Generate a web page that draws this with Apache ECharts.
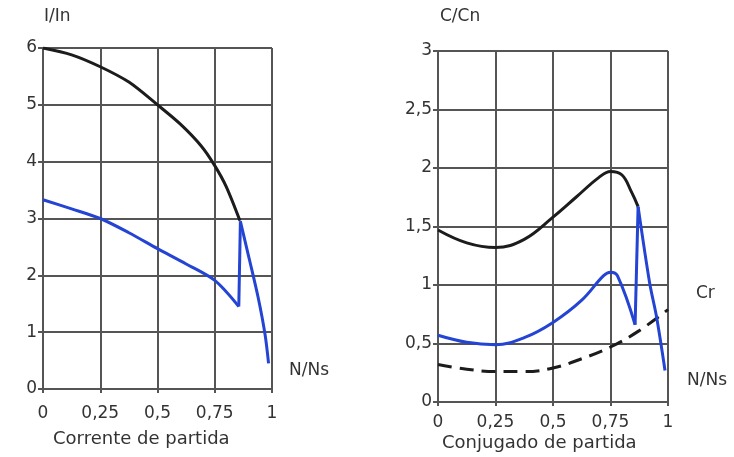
<!DOCTYPE html>
<html>
<head>
<meta charset="utf-8">
<script src="https://cdn.jsdelivr.net/npm/echarts@6/dist/echarts.min.js"></script>
<style>
  html, body { margin: 0; padding: 0; background: #fff; }
  #chart { width: 734px; height: 457px; }
</style>
</head>
<body>
<div id="chart"></div>
<script>
// speed ratio ticks (N/Ns)
var xTicks = [0, 0.25, 0.5, 0.75, 1];
var leftYTicks = [0, 1, 2, 3, 4, 5, 6];
var rightYTicks = [0, 0.5, 1, 1.5, 2, 2.5, 3];

// Corrente de partida (I/In)
var leftBlack = [[0, 6], [0.125, 5.88], [0.25, 5.67], [0.375, 5.4], [0.5, 5.0], [0.6, 4.66], [0.69, 4.28], [0.75, 3.93], [0.8, 3.56], [0.86, 2.96]];
var leftBlueStart = [[0, 3.33], [0.125, 3.17], [0.25, 3.0], [0.375, 2.75], [0.5, 2.47], [0.625, 2.2], [0.75, 1.91], [0.855, 1.45]];
var leftBlueJump = [[0.855, 1.45], [0.862, 2.95]];
var leftBlueFall = [[0.862, 2.95], [0.9, 2.3], [0.94, 1.6], [0.97, 0.95], [0.985, 0.45]];

// Conjugado de partida (C/Cn)
var rightBlack = [[0, 1.47], [0.125, 1.36], [0.25, 1.32], [0.375, 1.39], [0.5, 1.58], [0.6, 1.75], [0.7, 1.92], [0.75, 1.97], [0.8, 1.94], [0.84, 1.8], [0.87, 1.67]];
var rightBlueStart = [[0, 0.57], [0.125, 0.51], [0.25, 0.49], [0.375, 0.55], [0.5, 0.68], [0.625, 0.87], [0.72, 1.08], [0.75, 1.11], [0.78, 1.08], [0.857, 0.66]];
var rightBlueJump = [[0.857, 0.66], [0.87, 1.67]];
var rightBlueFall = [[0.87, 1.67], [0.92, 1.02], [0.95, 0.73], [0.987, 0.27]];
var rightCr = [[0, 0.32], [0.125, 0.28], [0.25, 0.26], [0.375, 0.26], [0.5, 0.29], [0.625, 0.37], [0.75, 0.47], [0.875, 0.61], [1, 0.79]];

var gridColor = '#555';
var textColor = '#333';
var blue = '#2444d4';
var black = '#1c1c1c';
var font = 'DejaVu Sans';

function comma(v) {
    return String(v).replace('.', ',');
}

function xAxisFor(gridIndex, margin) {
    return {
        type: 'value', gridIndex: gridIndex, min: 0, max: 1, interval: 0.25,
        axisLine: { show: true, lineStyle: { color: gridColor, width: 2 } },
        axisTick: { show: true, length: 4, lineStyle: { color: gridColor, width: 2 } },
        splitLine: { show: true, lineStyle: { color: gridColor, width: 2 } },
        axisLabel: {
            margin: margin, color: textColor, fontSize: 17, fontFamily: font,
            showMaxLabel: true, showMinLabel: true,
            formatter: function (v) { return xTicks.indexOf(v) >= 0 ? comma(v) : ''; }
        }
    };
}

function yAxisFor(gridIndex, max, interval, ticks) {
    return {
        type: 'value', gridIndex: gridIndex, min: 0, max: max, interval: interval,
        axisLine: { show: true, lineStyle: { color: gridColor, width: 2 } },
        axisTick: { show: true, length: 5, lineStyle: { color: gridColor, width: 2 } },
        splitLine: { show: true, lineStyle: { color: gridColor, width: 2 } },
        axisLabel: {
            margin: 6, color: textColor, fontSize: 17, fontFamily: font,
            formatter: function (v) { return ticks.indexOf(v) >= 0 ? comma(v) : ''; }
        }
    };
}

function curve(data, xi, color, smooth, extra) {
    var s = {
        type: 'line', xAxisIndex: xi, yAxisIndex: xi, data: data,
        smooth: smooth, showSymbol: false, symbol: 'none', silent: true,
        lineStyle: { color: color, width: 3 }, z: color === blue ? 4 : 3
    };
    if (extra) { for (var k in extra) s[k] = extra[k]; }
    return s;
}

var chart = echarts.init(document.getElementById('chart'), null, { renderer: 'canvas' });

var option = {
    backgroundColor: '#fff',
    animation: false,
    grid: [
        { left: 43, right: 462, top: 48, bottom: 68 },
        { left: 438, right: 66, top: 51, bottom: 55 }
    ],
    xAxis: [xAxisFor(0, 16), xAxisFor(1, 12)],
    yAxis: [yAxisFor(0, 6, 1, leftYTicks), yAxisFor(1, 3, 0.5, rightYTicks)],
    series: [
        curve(leftBlack, 0, black, 0.3),
        curve(leftBlueStart, 0, blue, 0.3),
        curve(leftBlueJump, 0, blue, false),
        curve(leftBlueFall, 0, blue, 0.3),
        curve(rightBlack, 1, black, 0.4),
        curve(rightBlueStart, 1, blue, 0.4),
        curve(rightBlueJump, 1, blue, false),
        curve(rightBlueFall, 1, blue, 0.3),
        curve(rightCr, 1, black, 0.4, {
            lineStyle: { color: black, width: 3, type: [14, 8] },
            endLabel: {
                show: true, formatter: 'Cr', color: textColor, fontSize: 17,
                fontFamily: font, offset: [20, -16]
            }
        })
    ],
    graphic: [
        { type: 'text', left: 44, top: 8, style: { text: 'I/In', fill: textColor, font: '17px "DejaVu Sans"' } },
        { type: 'text', left: 440, top: 8, style: { text: 'C/Cn', fill: textColor, font: '17px "DejaVu Sans"' } },
        { type: 'text', left: 289, top: 362, style: { text: 'N/Ns', fill: textColor, font: '17px "DejaVu Sans"' } },
        { type: 'text', left: 687, top: 372, style: { text: 'N/Ns', fill: textColor, font: '17px "DejaVu Sans"' } },
        { type: 'text', left: 53, top: 430, style: { text: 'Corrente de partida', fill: textColor, font: '18px "DejaVu Sans"' } },
        { type: 'text', left: 442, top: 434, style: { text: 'Conjugado de partida', fill: textColor, font: '18px "DejaVu Sans"' } }
    ]
};

chart.setOption(option);

window.addEventListener('resize', function () {
    chart.resize();
});
</script>
</body>
</html>
